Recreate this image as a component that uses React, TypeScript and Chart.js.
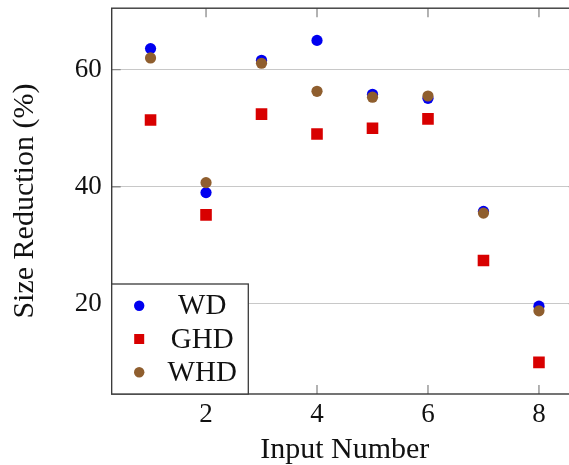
import React, { useEffect, useRef } from "react";
import { Chart, registerables } from "chart.js";

Chart.register(...registerables);

const inputNumbers = [1, 2, 3, 4, 5, 6, 7, 8];
const wdValues = [63.6, 39.0, 61.6, 65.0, 55.8, 55.1, 35.8, 19.6];
const ghdValues = [51.4, 35.2, 52.4, 49.0, 50.0, 51.6, 27.4, 10.0];
const whdValues = [62.0, 40.7, 61.1, 56.3, 55.3, 55.5, 35.5, 18.8];
const xTickValues = [2, 4, 6, 8];
const yTickValues = [20, 40, 60];
const seriesNames = ["WD", "GHD", "WHD"];

const FONT = "'Liberation Serif', 'Times New Roman', serif";
const BLUE = "#0000f0";
const RED = "#d80000";
const BROWN = "#8f5e2e";
const AXIS = "#3a3a3a";
const TICK = "#8a8a8a";

const frameAndLegend = {
  id: "frameAndLegend",
  afterDatasetsDraw(chart: any) {
    const { ctx, chartArea } = chart;
    const { left, right, top, bottom } = chartArea;
    const xs = chart.scales.x;
    const ys = chart.scales.y;
    ctx.save();
    // inward ticks
    ctx.strokeStyle = TICK;
    ctx.lineWidth = 1.3;
    const tl = 9;
    xTickValues.forEach((v) => {
      const px = xs.getPixelForValue(v);
      ctx.beginPath();
      ctx.moveTo(px, bottom);
      ctx.lineTo(px, bottom - tl);
      ctx.moveTo(px, top);
      ctx.lineTo(px, top + tl);
      ctx.stroke();
    });
    yTickValues.forEach((v) => {
      const py = ys.getPixelForValue(v);
      ctx.beginPath();
      ctx.moveTo(left, py);
      ctx.lineTo(left + tl, py);
      ctx.moveTo(right, py);
      ctx.lineTo(right - tl, py);
      ctx.stroke();
    });
    // frame
    ctx.strokeStyle = AXIS;
    ctx.lineWidth = 1.4;
    ctx.strokeRect(left, top, right - left, bottom - top);

    // legend
    const lx = left;
    const lw = 136.6;
    const lh = 110;
    const ly = bottom - lh;
    ctx.fillStyle = "#ffffff";
    ctx.fillRect(lx, ly, lw, lh);
    ctx.strokeStyle = AXIS;
    ctx.lineWidth = 1.3;
    ctx.strokeRect(lx, ly, lw, lh);
    const rows = [ly + 21.7, ly + 55, ly + 88.3];
    const datasets = chart.data.datasets;
    ctx.font = `29px ${FONT}`;
    ctx.textAlign = "center";
    ctx.textBaseline = "middle";
    seriesNames.forEach((name, i) => {
      const ds = datasets.find((d: any) => d.label === name);
      const cy = rows[i];
      const mx = lx + 27.5;
      ctx.fillStyle = ds.backgroundColor;
      if (ds.pointStyle === "rect") {
        ctx.fillRect(mx - 5, cy - 5, 10, 10);
      } else {
        ctx.beginPath();
        ctx.arc(mx, cy, 5.2, 0, Math.PI * 2);
        ctx.fill();
      }
      ctx.fillStyle = "#111111";
      ctx.fillText(name, lx + 90.5, cy + 1);
    });
    ctx.restore();
  },
};

export default function App() {
  const canvasRef = useRef<HTMLCanvasElement | null>(null);

  useEffect(() => {
    if (!canvasRef.current) return;
    const mk = (vals: number[]) => inputNumbers.map((x, i) => ({ x, y: vals[i] }));
    const chart = new Chart(canvasRef.current, {
      type: "scatter",
      data: {
        datasets: [
          {
            label: seriesNames[0],
            data: mk(wdValues),
            backgroundColor: BLUE,
            borderColor: BLUE,
            borderWidth: 0,
            pointStyle: "circle",
            pointRadius: 5.6,
            order: 3,
          },
          {
            label: seriesNames[1],
            data: mk(ghdValues),
            backgroundColor: RED,
            borderColor: RED,
            borderWidth: 0,
            pointStyle: "rect",
            pointRadius: 8.2,
            order: 2,
          },
          {
            label: seriesNames[2],
            data: mk(whdValues),
            backgroundColor: BROWN,
            borderColor: BROWN,
            borderWidth: 0,
            pointStyle: "circle",
            pointRadius: 5.6,
            order: 1,
          },
        ],
      },
      options: {
        responsive: false,
        animation: false,
        devicePixelRatio: 1,
        layout: { padding: { left: 0, top: 6.7, right: 22.2, bottom: 0 } },
        plugins: {
          legend: { display: false },
          tooltip: { enabled: false },
        },
        scales: {
          x: {
            type: "linear",
            min: 0.3,
            max: 8.7,
            border: { display: false },
            grid: { display: false, drawTicks: false },
            afterBuildTicks: (s: any) => {
              s.ticks = xTickValues.map((v) => ({ value: v }));
            },
            afterFit: (s: any) => {
              s.height = 71;
              s.paddingLeft = 0;
              s.paddingRight = 0;
            },
            ticks: {
              padding: 5,
              color: "#111111",
              font: { family: FONT, size: 27 },
              callback: (v: any) => String(v),
            },
            title: {
              display: true,
              text: "Input Number",
              color: "#111111",
              font: { family: FONT, size: 30, lineHeight: 1.0 },
              padding: { top: 0, bottom: 0 },
            },
          },
          y: {
            type: "linear",
            min: 4.6,
            max: 70.5,
            border: { display: false },
            grid: { display: true, drawTicks: false, color: "#c8c8c8", lineWidth: 1 },
            afterBuildTicks: (s: any) => {
              s.ticks = yTickValues.map((v) => ({ value: v }));
            },
            afterFit: (s: any) => {
              s.width = 111.7;
              s.paddingTop = 0;
              s.paddingBottom = 0;
            },
            ticks: {
              padding: 10,
              color: "#111111",
              font: { family: FONT, size: 27 },
              callback: (v: any) => String(v),
            },
            title: {
              display: true,
              text: "Size Reduction (%)",
              color: "#111111",
              font: { family: FONT, size: 30, lineHeight: 1.0 },
              padding: { top: 10, bottom: 0 },
            },
          },
        },
      },
      plugins: [frameAndLegend],
    });
    return () => chart.destroy();
  }, []);

  return (
    <div
      style={{
        position: "fixed",
        left: 0,
        top: 0,
        width: 569,
        height: 465,
        overflow: "hidden",
        background: "#ffffff",
      }}
    >
      <canvas
        ref={canvasRef}
        width={600}
        height={465}
        style={{ width: 600, height: 465, display: "block" }}
      />
    </div>
  );
}
